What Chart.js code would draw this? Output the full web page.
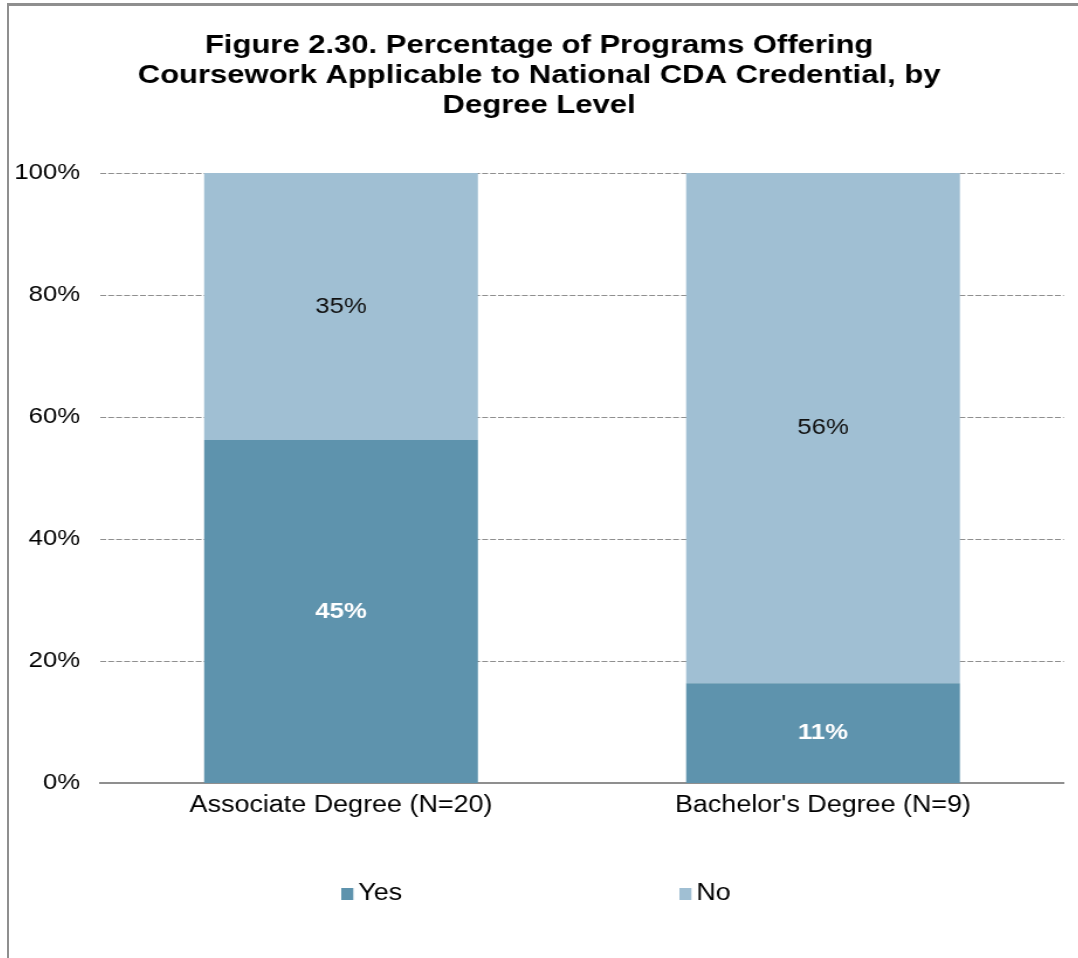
<!DOCTYPE html>
<html><head><meta charset="utf-8">
<script src="https://cdn.jsdelivr.net/npm/chart.js@4"></script>
<style>
html,body{margin:0;padding:0;background:#fff;overflow:hidden;}
#topline{position:absolute;left:7px;top:3px;width:1071px;height:3px;background:#8f8f8f;}
#leftline{position:absolute;left:7px;top:3px;width:2px;height:955px;background:#8f8f8f;}
#wrap{position:absolute;left:9px;top:0;width:914px;height:958px;transform:scaleX(1.17);transform-origin:0 0;}
</style></head><body>
<div id="wrap"><canvas id="c"></canvas></div>
<div id="topline"></div><div id="leftline"></div>
<script>
const categories = ["Associate Degree (N=20)", "Bachelor's Degree (N=9)"];
const seriesNames = ["Yes", "No"];
const yesValues = [45, 11];
const noValues = [35, 56];
const yTicks = [0, 20, 40, 60, 80, 100];
const titleLines = ["Figure 2.30. Percentage of Programs Offering", "Coursework Applicable to National CDA Credential, by", "Degree Level"];

const totals = yesValues.map((v, i) => v + noValues[i]);
const yesShare = yesValues.map((v, i) => v / totals[i] * 100);
const noShare = noValues.map((v, i) => v / totals[i] * 100);

const FONT = "'Liberation Sans', Arial, Helvetica, sans-serif";
const COLORS = ['#5e93ad', '#a0bfd3'];

const labelPlugin = {
  id: 'segLabels',
  afterDatasetsDraw(chart) {
    const ctx = chart.ctx;
    const raws = [yesValues, noValues];
    const colors = ['#ffffff', '#111111'];
    chart.data.datasets.forEach((ds, di) => {
      const meta = chart.getDatasetMeta(di);
      meta.data.forEach((bar, i) => {
        const yc = (bar.y + bar.base) / 2;
        ctx.save();
        ctx.font = (di === 0 ? 'bold ' : '') + '22px ' + FONT;
        ctx.fillStyle = colors[di];
        ctx.textAlign = 'center';
        ctx.textBaseline = 'middle';
        ctx.fillText(raws[di][i] + '%', bar.x, yc);
        ctx.restore();
      });
    });
  }
};

const legendPlugin = {
  id: 'bottomLegend',
  afterDraw(chart) {
    const ctx = chart.ctx;
    const startX = 284, step = 289, yMid = 894;
    chart.data.datasets.forEach((ds, di) => {
      const x = startX + di * step;
      ctx.save();
      ctx.fillStyle = ds.backgroundColor;
      ctx.fillRect(x, yMid - 6, 10.3, 12);
      ctx.fillStyle = '#000';
      ctx.font = '23px ' + FONT;
      ctx.textAlign = 'left';
      ctx.textBaseline = 'middle';
      ctx.fillText(ds.label, x + 14.5, yMid);
      ctx.restore();
    });
  }
};

new Chart(document.getElementById('c'), {
  type: 'bar',
  data: {
    labels: categories,
    datasets: [
      { label: seriesNames[0], data: yesShare, backgroundColor: COLORS[0], borderWidth: 0 },
      { label: seriesNames[1], data: noShare, backgroundColor: COLORS[1], borderWidth: 0 }
    ]
  },
  options: {
    responsive: true,
    maintainAspectRatio: false,
    animation: false,
    datasets: { bar: { categoryPercentage: 0.568, barPercentage: 1.0 } },
    layout: { padding: { left: 4.5, right: 12.3, top: 0, bottom: 131 } },
    plugins: {
      title: {
        display: true,
        text: titleLines,
        color: '#000',
        font: { family: FONT, size: 26.5, weight: 'bold', lineHeight: 1.12 },
        padding: { top: 31, bottom: 53 }
      },
      legend: { display: false },
      tooltip: { enabled: false }
    },
    scales: {
      x: {
        stacked: true,
        grid: { display: false, drawTicks: false },
        border: { display: true, color: '#8f8f8f', width: 2 },
        ticks: { color: '#000', font: { family: FONT, size: 23 }, padding: 8 }
      },
      y: {
        stacked: true,
        min: 0, max: 100,
        afterBuildTicks(axis) { axis.ticks = yTicks.map(v => ({ value: v })); },
        afterFit(axis) { axis.width = 73.3; },
        grid: { color: '#8f8f8f', lineWidth: 1, drawTicks: false },
        border: { display: false, dash: [5, 1.8] },
        ticks: { color: '#000', font: { family: FONT, size: 22 }, padding: 17, callback: v => v + '%' }
      }
    }
  },
  plugins: [labelPlugin, legendPlugin]
});
</script>
</body></html>
